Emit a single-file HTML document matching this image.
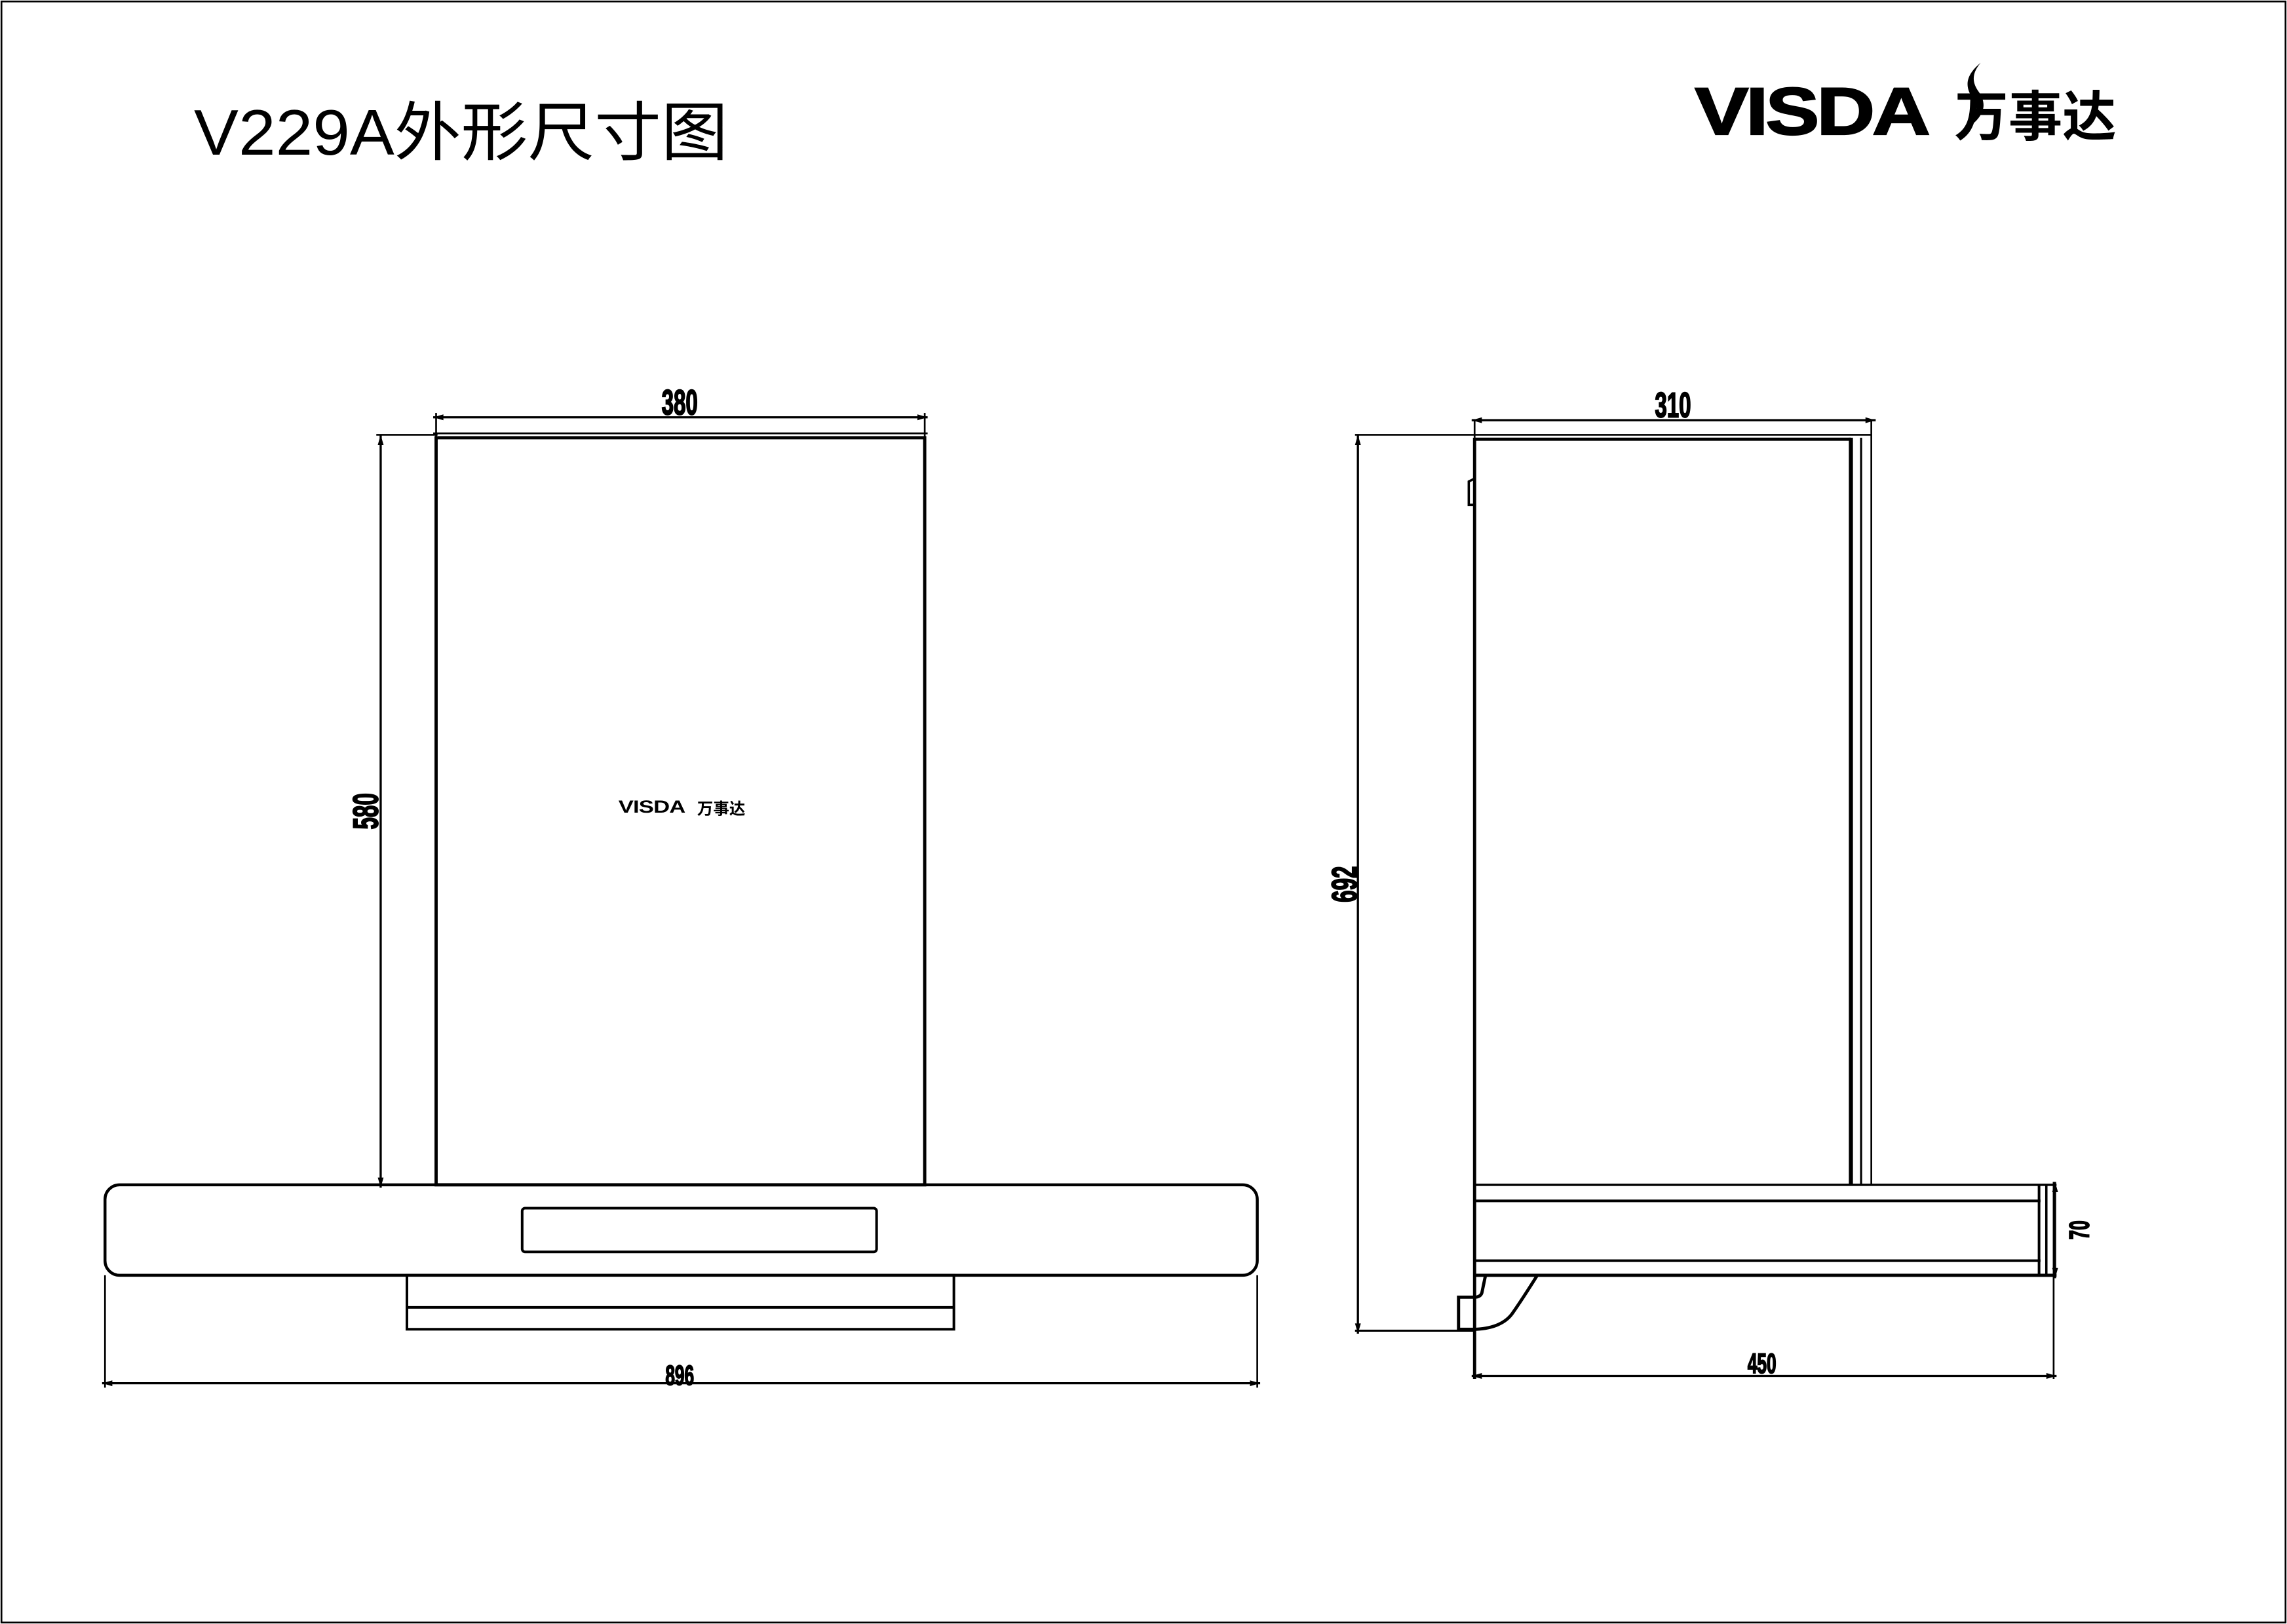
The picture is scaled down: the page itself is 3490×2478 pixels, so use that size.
<!DOCTYPE html>
<html><head><meta charset="utf-8"><style>
html,body{margin:0;padding:0;background:#fff;}
svg{display:block;}
.d{font-family:"Liberation Sans",sans-serif;font-weight:bold;}
</style></head><body>
<svg width="3490" height="2478" viewBox="0 0 1568 1113" preserveAspectRatio="none" xmlns="http://www.w3.org/2000/svg">
<rect x="0" y="0" width="1568" height="1113" fill="#fff"/>
<rect x="1" y="1" width="1566" height="1111" fill="none" stroke="#000" stroke-width="1.2"/>
<text x="133" y="106" font-family="'Liberation Sans','Noto Sans CJK SC',sans-serif" font-size="44" fill="#000" transform="translate(133,0) scale(1.04,1) translate(-133,0)">V229A外形尺寸图</text>
<!-- logo -->
<g fill="#000">
<text x="1162" y="92" font-family="'Liberation Sans',sans-serif" font-weight="bold" font-size="46" stroke="#000" stroke-width="1" transform="translate(1162,0) scale(1.2,1) translate(-1162,0)" letter-spacing="-1.5">VISDA</text>
<path d="M1358 43 C1347 52,1347 60,1353 68 C1357 74,1355 80,1350 87 C1362 78,1362 70,1356 62 C1352 56,1352 50,1358 43Z"/>
<text x="1340" y="93" font-family="'Noto Sans CJK SC',sans-serif" font-weight="bold" font-size="37">万事达</text>
</g>
<g fill="none" stroke="#000" stroke-width="1.8">
<!-- front view -->
<line x1="297" y1="286" x2="636" y2="286" stroke-width="1.5"/>
<line x1="299" y1="283" x2="299" y2="300" stroke-width="1.2"/>
<line x1="634" y1="283" x2="634" y2="300" stroke-width="1.2"/>
<line x1="297" y1="297" x2="636" y2="297" stroke-width="1.2"/>
<line x1="258" y1="298" x2="300" y2="298" stroke-width="1.2"/>
<rect x="299" y="300" width="335" height="512" stroke-width="2.2"/>
<line x1="261" y1="298" x2="261" y2="814" stroke-width="1.5"/>
<line x1="258" y1="812" x2="299" y2="812" stroke-width="1.2"/>
<rect x="72" y="812" width="790" height="62" rx="10" stroke-width="2"/>
<rect x="358" y="828" width="243" height="30" rx="2" stroke-width="1.8"/>
<rect x="279" y="874" width="375" height="37" stroke-width="1.8"/>
<line x1="279" y1="896" x2="654" y2="896"/>
<line x1="72" y1="874" x2="72" y2="951" stroke-width="1.2"/>
<line x1="862" y1="874" x2="862" y2="951" stroke-width="1.2"/>
<line x1="70" y1="948" x2="864" y2="948" stroke-width="1.5"/>
<!-- side view -->
<line x1="1009" y1="288" x2="1286" y2="288" stroke-width="1.5"/>
<line x1="1011" y1="288" x2="1011" y2="300" stroke-width="1.2"/>
<line x1="1283" y1="288" x2="1283" y2="812" stroke-width="1.2"/>
<line x1="929" y1="298" x2="1283" y2="298" stroke-width="1.2"/>
<line x1="1011" y1="301" x2="1269" y2="301" stroke-width="2.2"/>
<line x1="1011" y1="300" x2="1011" y2="945" stroke-width="2.2"/>
<line x1="1269" y1="300" x2="1269" y2="812" stroke-width="2.8"/>
<line x1="1276" y1="300" x2="1276" y2="812" stroke-width="1.4"/>
<path d="M1011 328 L1007 330 L1007 346 L1011 346" stroke-width="1.6"/>
<line x1="931" y1="298" x2="931" y2="914" stroke-width="1.5"/>
<line x1="929" y1="912" x2="1012" y2="912" stroke-width="1.4"/>
<line x1="1011" y1="812" x2="1410" y2="812" stroke-width="1.6"/>
<line x1="1011" y1="823" x2="1399" y2="823" stroke-width="1.8"/>
<line x1="1011" y1="864" x2="1399" y2="864" stroke-width="1.8"/>
<line x1="1011" y1="874" x2="1410" y2="874" stroke-width="2.2"/>
<line x1="1398" y1="812" x2="1398" y2="874" stroke-width="1.8"/>
<line x1="1403" y1="812" x2="1403" y2="874" stroke-width="1.6"/>
<line x1="1408" y1="810" x2="1408" y2="945" stroke-width="1.2"/>
<line x1="1409" y1="810" x2="1409" y2="876" stroke-width="1.4"/>
<path d="M1018.5 874 L1016 886 Q1015 889 1011 889 L1000 889 L1000 911 L1012 911 Q1030 910 1037 900 Q1044 890 1054 874" stroke-width="2.2"/>
<line x1="1009" y1="943" x2="1410" y2="943" stroke-width="1.5"/>
</g>
<g fill="#000">
<path d="M297 286 l7 -2 l0 4z M636 286 l-7 -2 l0 4z"/>
<path d="M1009 288 l7 -2 l0 4z M1286 288 l-7 -2 l0 4z"/>
<path d="M70 948 l7 -2 l0 4z M864 948 l-7 -2 l0 4z"/>
<path d="M1009 943 l7 -2 l0 4z M1410 943 l-7 -2 l0 4z"/>
<path d="M261 298 l-2 7 l4 0z M261 814 l-2 -7 l4 0z"/>
<path d="M931 298 l-2 7 l4 0z M931 914 l-2 -7 l4 0z"/>
<path d="M1409 810 l-2 7 l4 0z M1409 876 l-2 -7 l4 0z"/>
</g>
<g class="d" fill="#000" stroke="#000" stroke-width="0.9" font-size="24">
<text x="466" y="284" text-anchor="middle" transform="translate(466,0) scale(0.62,1) translate(-466,0)">380</text>
<text x="1147" y="286" text-anchor="middle" transform="translate(1147,0) scale(0.62,1) translate(-1147,0)">310</text>
<text x="466" y="949" text-anchor="middle" font-size="19" transform="translate(466,0) scale(0.62,1) translate(-466,0)">896</text>
<text x="1208" y="941" text-anchor="middle" font-size="19" transform="translate(1208,0) scale(0.62,1) translate(-1208,0)">450</text>
<text transform="translate(259,556) rotate(-90) scale(0.62,1)" text-anchor="middle">580</text>
<text transform="translate(930,606) rotate(-90) scale(0.62,1)" text-anchor="middle">692</text>
<text transform="translate(1432,843) rotate(-90) scale(0.62,1)" text-anchor="middle" font-size="19">70</text>
</g>
<g fill="#000">
<text x="424" y="557" font-family="'Liberation Sans',sans-serif" font-weight="bold" font-size="12" transform="translate(424,0) scale(1.3,1) translate(-424,0)" letter-spacing="-0.3">VISDA</text>
<text x="478" y="558" font-family="'Noto Sans CJK SC',sans-serif" font-weight="bold" font-size="11">万事达</text>
</g>
</svg>
</body></html>
